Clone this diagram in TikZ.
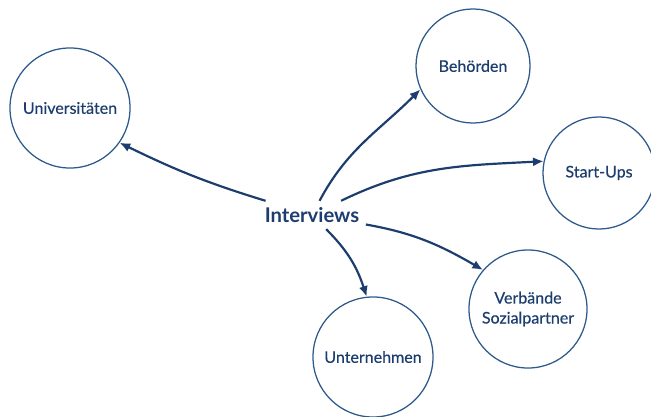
\documentclass[tikz,border=0pt]{standalone}
\usepackage{fontspec}
\setmainfont{Lato}
\newfontfamily\topicfont{Lato}[FakeBold=0.4]
\usetikzlibrary{arrows.meta}
\definecolor{navy}{HTML}{1C3D6E}
\definecolor{ring}{HTML}{2D5A8A}
\tikzset{
    topic/.style={circle, draw=ring, line width=0.9pt, minimum size=2.9cm, inner sep=0pt,
        align=center, text=navy, font=\topicfont\fontsize{11.4}{14.2}\selectfont},
    link/.style={navy, line width=1.55pt, -{Latex[length=7.5pt, width=6.5pt]}}
}

\begin{document}
\begin{tikzpicture}[x=0.025cm, y=0.025cm]
                    \useasboundingbox (0, 0) rectangle (651, 416);
                    \clip (0, 0) rectangle (651, 416);

                    \node[topic, minimum size=3cm] (u) at (70, 308) {Universitäten};
                    \node[topic, minimum size=2.85cm] (b) at (473, 350) {Behörden};
                    \node[topic, minimum size=2.8cm] (s) at (599, 243) {Start-Ups};
                    \node[topic, minimum size=2.95cm] (v) at (528, 107) {Verbände\\Sozialpartner};
                    \node[topic, minimum size=3cm] (n) at (373, 59) {Unternehmen};
                    \node[text=navy, font=\fontsize{14.4}{17}\selectfont\bfseries, inner sep=4.5pt] (i) at (312, 201) {Interviews};
                    \draw
                    (i) edge[link, out=163, in=-26] (u.-35)
                    (i) edge[link, out=62, in=-135] (b.204)
                    (i) edge[link, out=26, in=183] (s.168)
                    (i) edge[link, out=-10, in=150] (v.139)
                    (i) edge[link, out=-45, in=108] (n.96);
                \end{tikzpicture}
\end{document}
